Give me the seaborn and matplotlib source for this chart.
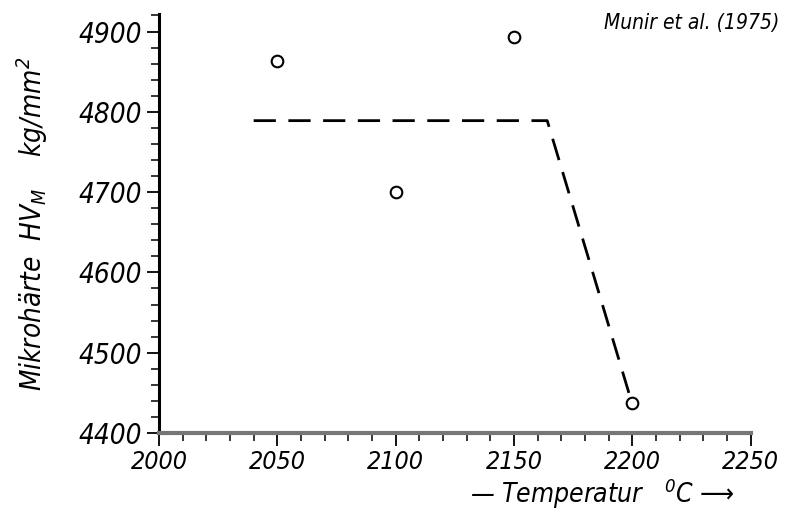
import matplotlib as mpl
mpl.use("Agg")
import matplotlib.pyplot as plt
import pandas as pd
import seaborn as sns
from matplotlib.ticker import MultipleLocator

# measured points
temp = [2050, 2100, 2150, 2200]
hardness = [4863, 4700, 4893, 4437]

# dashed trend line
line_temp = [2040, 2164, 2199]
line_hard = [4789, 4789, 4445]

sns.set_style("ticks")
plt.rcParams["font.family"] = ["DejaVu Sans"]
plt.rcParams["font.stretch"] = "condensed"
plt.rcParams["font.style"] = "italic"
plt.rcParams["mathtext.fontset"] = "custom"
plt.rcParams["mathtext.it"] = "DejaVu Sans:italic"
plt.rcParams["mathtext.rm"] = "DejaVu Sans:italic"
for k in ["text.color", "axes.labelcolor", "xtick.color", "ytick.color"]:
    plt.rcParams[k] = "black"

fig = plt.figure(figsize=(7.87, 5.13), dpi=100)
ax = fig.add_axes([0.202, 0.156, 0.752, 0.817])

pts = pd.DataFrame({"T": temp, "HV": hardness})
ln = pd.DataFrame({"T": line_temp, "HV": line_hard})

sns.lineplot(data=ln, x="T", y="HV", ax=ax, color="black", lw=2,
             linestyle=(0, (8, 4.5)), sort=False)
sns.scatterplot(data=pts, x="T", y="HV", ax=ax, marker="o", s=70,
                facecolor="white", edgecolor="black", linewidth=1.5, zorder=5)

ax.set_xlim(2000, 2250)
ax.set_ylim(4400, 4922)
ax.set_yticks([4400, 4500, 4600, 4700, 4800, 4900])
ax.set_xticks([2000, 2050, 2100, 2150, 2200, 2250])
ax.xaxis.set_minor_locator(MultipleLocator(10))
ax.yaxis.set_minor_locator(MultipleLocator(20))
ax.tick_params(which="major", length=9, width=1.3, labelsize=20)
ax.tick_params(which="minor", length=6, width=1.1)
ax.tick_params(axis="x", labelsize=18, pad=3)

sns.despine(ax=ax)
ax.spines["left"].set_linewidth(2.2)
ax.spines["left"].set_color("black")
ax.spines["bottom"].set_linewidth(3)
ax.spines["bottom"].set_color("#777777")

ax.set_xlabel(r"— Temperatur   $^{0}C$ ⟶", fontsize=19, x=0.75, labelpad=2)
ax.set_ylabel(r"Mikrohärte  $HV_M$    $kg/mm^2$", fontsize=20, labelpad=20)

fig.text(0.99, 0.955, "Munir et al. (1975)", ha="right", va="center", fontsize=15)

fig.savefig("out.png", dpi=100)
